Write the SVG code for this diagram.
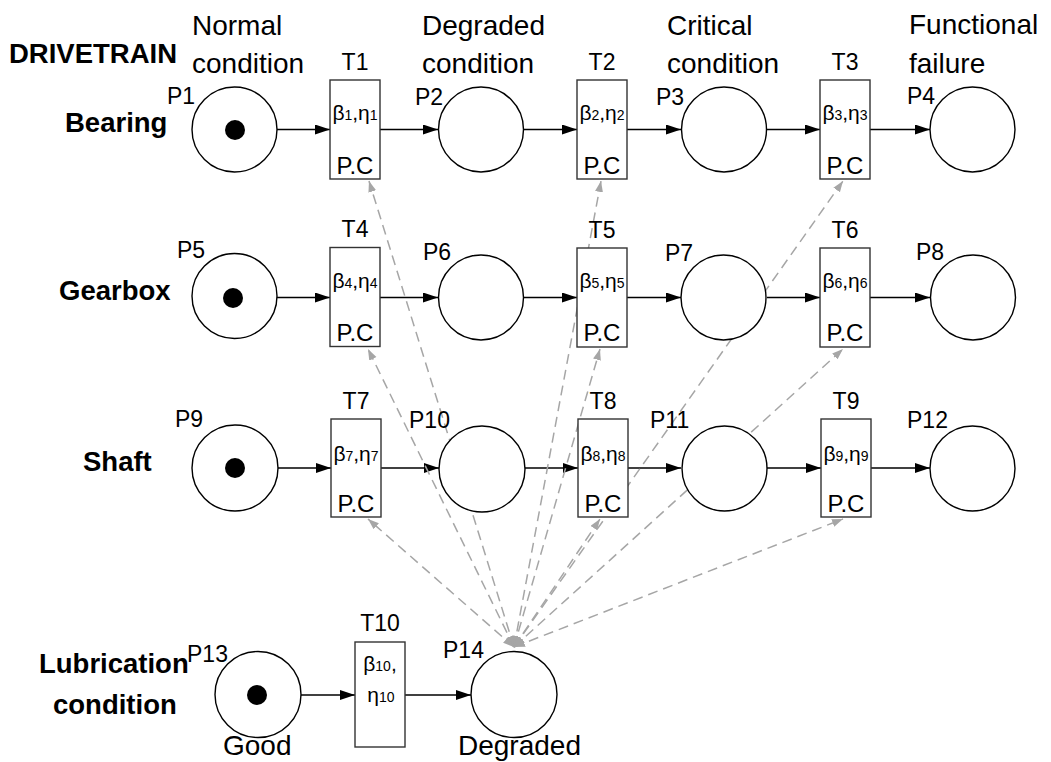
<svg xmlns="http://www.w3.org/2000/svg" width="1051" height="762" viewBox="0 0 1051 762">
  <style>
    .place { fill: #ffffff; stroke: #000000; stroke-width: 1.4; }
    .token { fill: #000000; }
    .trans { fill: #ffffff; stroke: #333333; stroke-width: 1.4; }
    .arc { stroke: #000000; stroke-width: 1.5; fill: none; marker-end: url(#arrowBlack); }
    .inhib { stroke: #a6a6a6; stroke-width: 1.5; fill: none; stroke-dasharray: 10 6;
             marker-start: url(#arrowGray); marker-end: url(#arrowGray); }
    text { font-family: "Liberation Sans", Arial, sans-serif; fill: #000000; }
    .head { font-size: 28px; }
    .row { font-size: 27.5px; font-weight: bold; }
    .plabel { font-size: 23px; }
    .tlabel { font-size: 23px; text-anchor: middle; }
    .param { font-size: 21px; text-anchor: middle; }
    .sub { font-size: 14px; }
    .pc { font-size: 24px; text-anchor: middle; }
  </style>
  <defs>
    <marker id="arrowBlack" markerUnits="userSpaceOnUse" markerWidth="16" markerHeight="12"
            refX="15" refY="5" orient="auto">
      <path d="M0,0 L15,5 L0,10 Z" fill="#000000"/>
    </marker>
    <marker id="arrowGray" markerUnits="userSpaceOnUse" markerWidth="12" markerHeight="10"
            refX="11" refY="4" orient="auto-start-reverse">
      <path d="M0,0 L11,4 L0,8 Z" fill="#a6a6a6"/>
    </marker>
  </defs>

  <!-- headings -->
  <g id="headings">
    <text class="row" x="9" y="63">DRIVETRAIN</text>
    <text class="head" x="192" y="35">Normal</text>
    <text class="head" x="192" y="73">condition</text>
    <text class="head" x="422" y="35">Degraded</text>
    <text class="head" x="422" y="73">condition</text>
    <text class="head" x="667" y="35">Critical</text>
    <text class="head" x="667" y="73">condition</text>
    <text class="head" x="909" y="34">Functional</text>
    <text class="head" x="909" y="73">failure</text>
    <text class="row" x="65" y="132">Bearing</text>
    <text class="row" x="59" y="300">Gearbox</text>
    <text class="row" x="83" y="471">Shaft</text>
    <text class="row" x="39" y="673">Lubrication</text>
    <text class="row" x="53" y="714">condition</text>
    <text class="head" x="223" y="755">Good</text>
    <text class="head" x="458" y="755">Degraded</text>
  </g>

  <!-- connectors -->
  <g id="connectors">
    <!-- Bearing row -->
    <line class="arc" x1="277" y1="129.5" x2="330" y2="129.5"/>
    <line class="arc" x1="380" y1="129.5" x2="438" y2="129.5"/>
    <line class="arc" x1="524" y1="129.5" x2="577" y2="129.5"/>
    <line class="arc" x1="627" y1="129.5" x2="681" y2="129.5"/>
    <line class="arc" x1="767" y1="129.5" x2="820" y2="129.5"/>
    <line class="arc" x1="870" y1="129.5" x2="930" y2="129.5"/>
    <!-- Gearbox row -->
    <line class="arc" x1="277" y1="297.5" x2="330" y2="297.5"/>
    <line class="arc" x1="380" y1="297.5" x2="438" y2="297.5"/>
    <line class="arc" x1="524" y1="297.5" x2="577" y2="297.5"/>
    <line class="arc" x1="627" y1="297.5" x2="681" y2="297.5"/>
    <line class="arc" x1="767" y1="297.5" x2="820" y2="297.5"/>
    <line class="arc" x1="870" y1="297.5" x2="930" y2="297.5"/>
    <!-- Shaft row -->
    <line class="arc" x1="278" y1="468" x2="331" y2="468"/>
    <line class="arc" x1="381" y1="468" x2="439" y2="468"/>
    <line class="arc" x1="525" y1="468" x2="578" y2="468"/>
    <line class="arc" x1="628" y1="468" x2="681" y2="468"/>
    <line class="arc" x1="767" y1="468" x2="821" y2="468"/>
    <line class="arc" x1="871" y1="468" x2="930" y2="468"/>
    <!-- Lubrication row -->
    <line class="arc" x1="301" y1="695" x2="355" y2="695"/>
    <line class="arc" x1="405" y1="695" x2="471" y2="695"/>
    <!-- lubrication degradation links to every transition -->
    <line class="inhib" x1="514" y1="647" x2="369" y2="181"/>
    <line class="inhib" x1="514" y1="647" x2="601" y2="181"/>
    <line class="inhib" x1="514" y1="647" x2="843" y2="181"/>
    <line class="inhib" x1="514" y1="647" x2="368" y2="349"/>
    <line class="inhib" x1="514" y1="647" x2="600" y2="349"/>
    <line class="inhib" x1="514" y1="647" x2="843" y2="349"/>
    <line class="inhib" x1="514" y1="647" x2="368" y2="519"/>
    <line class="inhib" x1="514" y1="647" x2="600" y2="519"/>
    <line class="inhib" x1="514" y1="647" x2="843" y2="519"/>
  </g>

  <!-- Bearing row nodes -->
  <g id="P1"><circle class="place" cx="234.5" cy="129.5" r="42.5"/><circle class="token" cx="235" cy="130" r="10"/><text class="plabel" x="167" y="104">P1</text></g>
  <g id="T1"><rect class="trans" x="330" y="80" width="50" height="99"/><text class="tlabel" x="355" y="70">T1</text>
    <text class="param" x="355" y="120">β<tspan class="sub">1</tspan>,η<tspan class="sub">1</tspan></text><text class="pc" x="355" y="174">P.C</text></g>
  <g id="P2"><circle class="place" cx="481" cy="129.5" r="42.5"/><text class="plabel" x="415" y="105">P2</text></g>
  <g id="T2"><rect class="trans" x="577" y="80" width="50" height="99"/><text class="tlabel" x="602" y="70">T2</text>
    <text class="param" x="602" y="120">β<tspan class="sub">2</tspan>,η<tspan class="sub">2</tspan></text><text class="pc" x="602" y="174">P.C</text></g>
  <g id="P3"><circle class="place" cx="724" cy="129.5" r="42.5"/><text class="plabel" x="656" y="105">P3</text></g>
  <g id="T3"><rect class="trans" x="820" y="80" width="50" height="99"/><text class="tlabel" x="845" y="70">T3</text>
    <text class="param" x="845" y="120">β<tspan class="sub">3</tspan>,η<tspan class="sub">3</tspan></text><text class="pc" x="845" y="174">P.C</text></g>
  <g id="P4"><circle class="place" cx="972.5" cy="129.5" r="42.5"/><text class="plabel" x="907" y="104">P4</text></g>

  <!-- Gearbox row nodes -->
  <g id="P5"><circle class="place" cx="234.5" cy="296" r="42.5"/><circle class="token" cx="233" cy="298" r="10"/><text class="plabel" x="177" y="258">P5</text></g>
  <g id="T4"><rect class="trans" x="330" y="247.5" width="50" height="99"/><text class="tlabel" x="355" y="237">T4</text>
    <text class="param" x="355" y="288">β<tspan class="sub">4</tspan>,η<tspan class="sub">4</tspan></text><text class="pc" x="355" y="341">P.C</text></g>
  <g id="P6"><circle class="place" cx="481" cy="297.5" r="42.5"/><text class="plabel" x="423" y="260">P6</text></g>
  <g id="T5"><rect class="trans" x="577" y="248" width="50" height="99"/><text class="tlabel" x="602" y="238">T5</text>
    <text class="param" x="602" y="288">β<tspan class="sub">5</tspan>,η<tspan class="sub">5</tspan></text><text class="pc" x="602" y="341">P.C</text></g>
  <g id="P7"><circle class="place" cx="723.5" cy="297.5" r="42.5"/><text class="plabel" x="665" y="261">P7</text></g>
  <g id="T6"><rect class="trans" x="820" y="248" width="50" height="99"/><text class="tlabel" x="845" y="238">T6</text>
    <text class="param" x="845" y="288">β<tspan class="sub">6</tspan>,η<tspan class="sub">6</tspan></text><text class="pc" x="845" y="341">P.C</text></g>
  <g id="P8"><circle class="place" cx="973" cy="297.5" r="42.5"/><text class="plabel" x="916" y="260">P8</text></g>

  <!-- Shaft row nodes -->
  <g id="P9"><circle class="place" cx="235" cy="468" r="43"/><circle class="token" cx="235" cy="468" r="10"/><text class="plabel" x="175" y="427">P9</text></g>
  <g id="T7"><rect class="trans" x="331" y="419" width="50" height="98"/><text class="tlabel" x="356" y="409">T7</text>
    <text class="param" x="356" y="461">β<tspan class="sub">7</tspan>,η<tspan class="sub">7</tspan></text><text class="pc" x="356" y="512">P.C</text></g>
  <g id="P10"><circle class="place" cx="482" cy="469" r="43"/><text class="plabel" x="409" y="428">P10</text></g>
  <g id="T8"><rect class="trans" x="578" y="419" width="50" height="98"/><text class="tlabel" x="603" y="409">T8</text>
    <text class="param" x="603" y="461">β<tspan class="sub">8</tspan>,η<tspan class="sub">8</tspan></text><text class="pc" x="603" y="512">P.C</text></g>
  <g id="P11"><circle class="place" cx="724.5" cy="468.5" r="42.5"/><text class="plabel" x="650" y="428">P11</text></g>
  <g id="T9"><rect class="trans" x="821" y="419" width="50" height="98"/><text class="tlabel" x="846" y="409">T9</text>
    <text class="param" x="846" y="461">β<tspan class="sub">9</tspan>,η<tspan class="sub">9</tspan></text><text class="pc" x="846" y="512">P.C</text></g>
  <g id="P12"><circle class="place" cx="972.5" cy="468.5" r="42.5"/><text class="plabel" x="907" y="428">P12</text></g>

  <!-- Lubrication row nodes -->
  <g id="P13"><circle class="place" cx="258" cy="694.5" r="43"/><circle class="token" cx="257" cy="695" r="10"/><text class="plabel" x="187" y="662">P13</text></g>
  <g id="T10"><rect class="trans" x="355" y="642" width="50" height="105"/><text class="tlabel" x="380" y="631">T10</text>
    <text class="param" x="380" y="671">β<tspan class="sub">10</tspan>,</text><text class="param" x="381" y="702">η<tspan class="sub">10</tspan></text></g>
  <g id="P14"><circle class="place" cx="514" cy="694.5" r="43"/><text class="plabel" x="443" y="658">P14</text></g>
</svg>
